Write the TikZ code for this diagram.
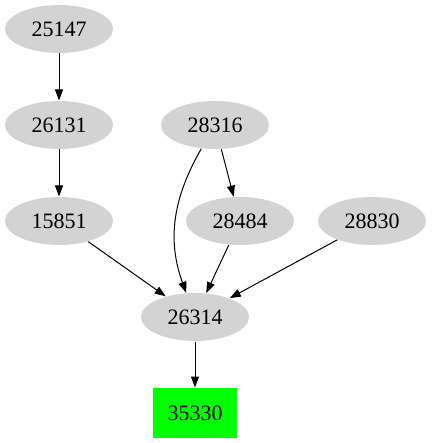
\documentclass[tikz,border=0pt]{standalone}
\usepackage{fontspec}
\setmainfont{Liberation Serif}
\usetikzlibrary{shapes,arrows.meta,positioning}
\definecolor{nodegray}{HTML}{D3D3D3}
\definecolor{endgreen}{HTML}{00FF00}
\tikzset{
  gnode/.style={ellipse, fill=nodegray, minimum width=108pt, minimum height=48pt, inner sep=0pt, font=\fontsize{22}{26}\selectfont},
  sinknode/.style={rectangle, fill=endgreen, minimum width=84pt, minimum height=50pt, inner sep=0pt, font=\fontsize{22}{26}\selectfont}
}

\begin{document}
\begin{tikzpicture}[x=1pt, y=-1pt, >={Triangle[length=11pt,width=8pt]}, line width=1pt]
\useasboundingbox (0,0) rectangle (431,443);
\node (n25147) [gnode] at (59,29) {25147};
\node (n26131) [gnode] at (59,125) {26131};
\node (n28316) [gnode] at (215,125) {28316};
\node (n15851) [gnode] at (59,221) {15851};
\node (n28484) [gnode] at (240,221) {28484};
\node (n28830) [gnode] at (372,221) {28830};
\node (n26314) [gnode] at (195,317) {26314};
\node (n35330) [sinknode] at (195,413) {35330};

\draw[->] (n25147) -- (n26131);
\draw[->] (n26131) -- (n15851);
\draw[->] (n28316) to[out=-120, in=110] (n26314);
\draw[->] (n28316) -- (n28484);
\draw[->] (n15851) -- (n26314);
\draw[->] (n28484) -- (n26314);
\draw[->] (n28830) -- (n26314);
\draw[->] (n26314) -- (n35330);
\end{tikzpicture}
\end{document}
